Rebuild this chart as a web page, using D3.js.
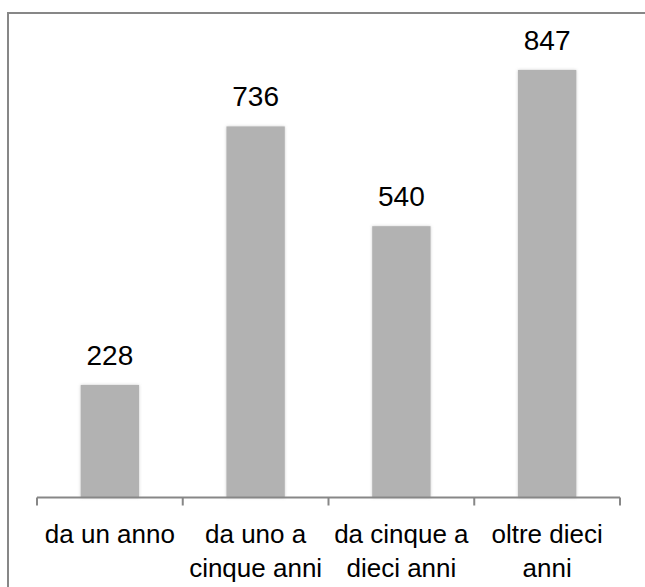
<!DOCTYPE html>
<meta charset="utf-8">
<head>
    <script src="https://d3js.org/d3.v7.min.js"></script>
    <style>
        html, body { margin: 0; padding: 0; background: white; overflow: hidden; }
        svg { display: block; }
        text { font-family: "Liberation Sans", Arial, sans-serif; fill: #000; }
    </style>
</head>
<body>
    <div id="chart"></div>
    <script>
        // data
        var categories = [
            ["da un anno"],
            ["da uno a", "cinque anni"],
            ["da cinque a", "dieci anni"],
            ["oltre dieci", "anni"]
        ];
        var values = [228, 736, 540, 847];

        var width = 645, height = 587;
        var plotLeft = 37, plotRight = 620, axisY = 497.5;

        var svg = d3.select("#chart").append("svg")
            .attr("width", width)
            .attr("height", height);

        // soft glow around the bars
        var defs = svg.append("defs");
        var f = defs.append("filter").attr("id", "glow")
            .attr("x", "-20%").attr("y", "-20%").attr("width", "140%").attr("height", "140%");
        f.append("feDropShadow")
            .attr("dx", 0).attr("dy", 0)
            .attr("stdDeviation", 1.6)
            .attr("flood-color", "#8c8c8c")
            .attr("flood-opacity", 0.45);

        // outer frame: only the left and top edges are inside the picture
        svg.append("path")
            .attr("d", "M8," + height + "V13H" + width)
            .attr("fill", "none")
            .attr("stroke", "#878787")
            .attr("stroke-width", 2);

        var keys = categories.map(function(d, i) { return i; });

        var x = d3.scaleBand()
            .domain(keys)
            .range([plotLeft, plotRight])
            .paddingInner(0)
            .paddingOuter(0);

        var y = d3.scaleLinear()
            .domain([0, 900])
            .range([501, 43]);

        var barW = x.bandwidth() / 2.5;

        // bars
        svg.append("g")
            .selectAll("rect")
            .data(values)
            .enter()
            .append("rect")
            .attr("x", function(d, i) { return x(i) + (x.bandwidth() - barW) / 2; })
            .attr("y", function(d) { return y(d); })
            .attr("width", barW)
            .attr("height", function(d) { return axisY - y(d); })
            .attr("fill", "#b2b2b2")
            .attr("filter", "url(#glow)");

        // value labels
        svg.append("g")
            .selectAll("text")
            .data(values)
            .enter()
            .append("text")
            .attr("x", function(d, i) { return x(i) + x.bandwidth() / 2; })
            .attr("y", function(d) { return y(d) - 20; })
            .attr("text-anchor", "middle")
            .style("font-size", "28px")
            .text(function(d) { return d; });

        // category axis: line + ticks at band edges
        var axis = svg.append("g");
        axis.append("line")
            .attr("x1", plotLeft).attr("x2", plotRight)
            .attr("y1", axisY).attr("y2", axisY)
            .attr("stroke", "#878787")
            .attr("stroke-width", 2);
        var edges = keys.map(function(k) { return x(k); }).concat([plotRight]);
        axis.selectAll("line.tick")
            .data(edges)
            .enter()
            .append("line")
            .attr("class", "tick")
            .attr("x1", function(d) { return d; })
            .attr("x2", function(d) { return d; })
            .attr("y1", axisY)
            .attr("y2", axisY + 8)
            .attr("stroke", "#878787")
            .attr("stroke-width", 2);

        // category labels
        var labels = svg.append("g")
            .selectAll("text")
            .data(categories)
            .enter()
            .append("text")
            .attr("text-anchor", "middle")
            .style("font-size", "26px");
        labels.selectAll("tspan")
            .data(function(d, i) { return d.map(function(t) { return { t: t, i: i }; }); })
            .enter()
            .append("tspan")
            .attr("x", function(d) { return x(d.i) + x.bandwidth() / 2; })
            .attr("y", function(d, j) { return 542.5 + j * 34.5; })
            .text(function(d) { return d.t; });
    </script>
</body>
